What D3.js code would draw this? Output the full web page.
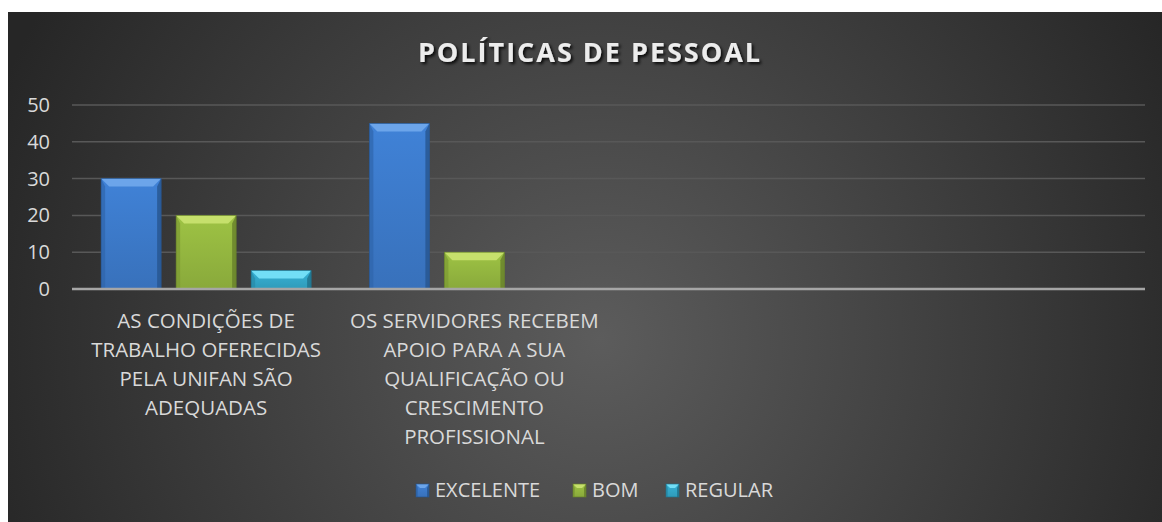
<!DOCTYPE html>
<html>
<head>
<meta charset="utf-8">
<script src="https://cdn.jsdelivr.net/npm/d3@7"></script>
<style>
  body { margin: 0; background: #fff; }
  text { font-family: "Open Sans", sans-serif; }
</style>
</head>
<body>
<svg width="1162" height="522"></svg>
<script>
var svg = d3.select("svg"),
    width = +svg.attr("width"),
    height = +svg.attr("height");

// data
var title = "POLÍTICAS DE PESSOAL";
var categories = [
  "AS CONDIÇÕES DE TRABALHO OFERECIDAS PELA UNIFAN SÃO ADEQUADAS",
  "OS SERVIDORES RECEBEM APOIO PARA A SUA QUALIFICAÇÃO OU CRESCIMENTO PROFISSIONAL",
  "",
  ""
];
var seriesNames = ["EXCELENTE", "BOM", "REGULAR"];
var excelente = [30, 45, null, null];
var bom = [20, 10, null, null];
var regular = [5, 0, null, null];
var yTicks = [0, 10, 20, 30, 40, 50];

var seriesValues = [excelente, bom, regular];

// colours: base, top bevel, side, bottom
var palette = [
  { base: "#3d7bcc", light: "#6ca5ea", side: "#2f65ab", dark: "#27558f" },
  { base: "#96b940", light: "#c6e06c", side: "#7c9a33", dark: "#66802a" },
  { base: "#33a9cb", light: "#72def6", side: "#278aa8", dark: "#1f7089" }
];

var margin = { left: 72, right: 1145, top: 105, bottom: 289 };

var x = d3.scaleBand()
    .domain(d3.range(categories.length))
    .range([margin.left, margin.right]);

var xSub = d3.scaleBand()
    .domain(d3.range(seriesNames.length))
    .range([-105, 105])
    .paddingInner(0.2);

var y = d3.scaleLinear()
    .domain([0, 50])
    .range([margin.bottom, margin.top]);

// background
var defs = svg.append("defs");
var bg = defs.append("radialGradient")
    .attr("id", "bg")
    .attr("gradientUnits", "userSpaceOnUse")
    .attr("cx", 600).attr("cy", 340).attr("r", 650);
bg.append("stop").attr("offset", "0%").attr("stop-color", "#5c5c5c");
bg.append("stop").attr("offset", "100%").attr("stop-color", "#262626");

seriesNames.forEach(function (s, i) {
  var g = defs.append("linearGradient")
      .attr("id", "bar" + i)
      .attr("x1", 0).attr("y1", 0).attr("x2", 0).attr("y2", 1);
  g.append("stop").attr("offset", "0%").attr("stop-color", d3.color(palette[i].base).brighter(0.15));
  g.append("stop").attr("offset", "100%").attr("stop-color", d3.color(palette[i].base).darker(0.25));
});

var shadow = defs.append("filter").attr("id", "shadow")
    .attr("x", "-10%").attr("y", "-30%").attr("width", "120%").attr("height", "160%");
shadow.append("feDropShadow")
    .attr("dx", 2).attr("dy", 2).attr("stdDeviation", 1.5)
    .attr("flood-color", "#000").attr("flood-opacity", 0.85);

svg.append("rect")
    .attr("x", 8).attr("y", 12)
    .attr("width", width - 8).attr("height", height - 12)
    .attr("fill", "url(#bg)");

// title
svg.append("text")
    .attr("x", 590)
    .attr("y", 62)
    .attr("text-anchor", "middle")
    .attr("font-size", 27)
    .attr("font-weight", "bold")
    .attr("letter-spacing", 2)
    .attr("fill", "#ececec")
    .attr("filter", "url(#shadow)")
    .text(title);

// gridlines
svg.append("g")
    .selectAll("line")
    .data(yTicks.filter(function (d) { return d > 0; }))
    .enter().append("line")
    .attr("x1", margin.left).attr("x2", margin.right)
    .attr("y1", function (d) { return y(d); })
    .attr("y2", function (d) { return y(d); })
    .attr("stroke", "#585858")
    .attr("stroke-width", 1.5);

// y axis labels
var yAxis = svg.append("g")
    .attr("transform", "translate(" + margin.left + ",0)")
    .call(d3.axisLeft(y).tickValues(yTicks).tickSize(0).tickPadding(22));
yAxis.select(".domain").remove();
yAxis.selectAll("text")
    .attr("font-family", "Open Sans")
    .attr("font-size", 20)
    .attr("fill", "#d9d9d9");

// bars with bevel
function bevelBar(g, x0, y0, w, h, c, b) {
  var x1 = x0 + w, y1 = y0 + h;
  b = Math.min(b, h / 2, w / 2);
  g.append("rect").attr("x", x0).attr("y", y0).attr("width", w).attr("height", h)
      .attr("fill", "url(#bar" + c.idx + ")");
  g.append("polygon")
      .attr("points", [[x0, y0], [x1, y0], [x1 - b, y0 + b], [x0 + b, y0 + b]].join(" "))
      .attr("fill", c.light);
  g.append("polygon")
      .attr("points", [[x0, y0], [x0 + b * 0.5, y0 + b], [x0 + b * 0.5, y1], [x0, y1]].join(" "))
      .attr("fill", c.side).attr("opacity", 0.7);
  g.append("polygon")
      .attr("points", [[x1, y0], [x1 - b * 0.5, y0 + b], [x1 - b * 0.5, y1], [x1, y1]].join(" "))
      .attr("fill", c.dark).attr("opacity", 0.8);
  g.append("rect").attr("x", x0).attr("y", y0).attr("width", w).attr("height", h)
      .attr("fill", "none").attr("stroke", c.dark).attr("stroke-width", 0.8).attr("opacity", 0.8);
}

palette.forEach(function (p, i) { p.idx = i; });

var bars = svg.append("g");
seriesValues.forEach(function (vals, si) {
  vals.forEach(function (v, ci) {
    if (v == null || v <= 0) return;
    var cx = x(ci) + x.bandwidth() / 2;
    var g = bars.append("g");
    bevelBar(g, cx + xSub(si), y(v), xSub.bandwidth(), y(0) - y(v), palette[si], 8);
  });
});

// x axis line
svg.append("line")
    .attr("x1", margin.left).attr("x2", margin.right)
    .attr("y1", y(0)).attr("y2", y(0))
    .attr("stroke", "#a6a6a6")
    .attr("stroke-width", 2.5);

// category labels, wrapped to the category width
var labels = svg.append("g")
    .selectAll("text")
    .data(categories)
    .enter().append("text")
    .attr("text-anchor", "middle")
    .attr("font-size", 20.5)
    .attr("fill", "#d9d9d9")
    .attr("x", function (d, i) { return x(i) + x.bandwidth() / 2; })
    .attr("y", 328);

labels.each(function (d, i) {
  var t = d3.select(this), words = d.split(" "), line = [];
  var cx = x(i) + x.bandwidth() / 2;
  var tspan = t.append("tspan").attr("x", cx);
  words.forEach(function (w) {
    line.push(w);
    tspan.text(line.join(" "));
    if (tspan.node().getComputedTextLength() > x.bandwidth() - 6 && line.length > 1) {
      line.pop();
      tspan.text(line.join(" "));
      line = [w];
      tspan = t.append("tspan").attr("x", cx).attr("dy", 29).text(w);
    }
  });
});

// legend
var legendX = [416, 573, 666];
var legend = svg.append("g")
    .selectAll("g")
    .data(seriesNames)
    .enter().append("g")
    .attr("transform", function (d, i) { return "translate(" + legendX[i] + ",484)"; });

legend.each(function (d, i) {
  bevelBar(d3.select(this), 0, 0, 13, 13, palette[i], 4);
});

legend.append("text")
    .attr("x", 19)
    .attr("y", 13)
    .attr("font-size", 20)
    .attr("fill", "#d9d9d9")
    .text(function (d) { return d; });
</script>
</body>
</html>
